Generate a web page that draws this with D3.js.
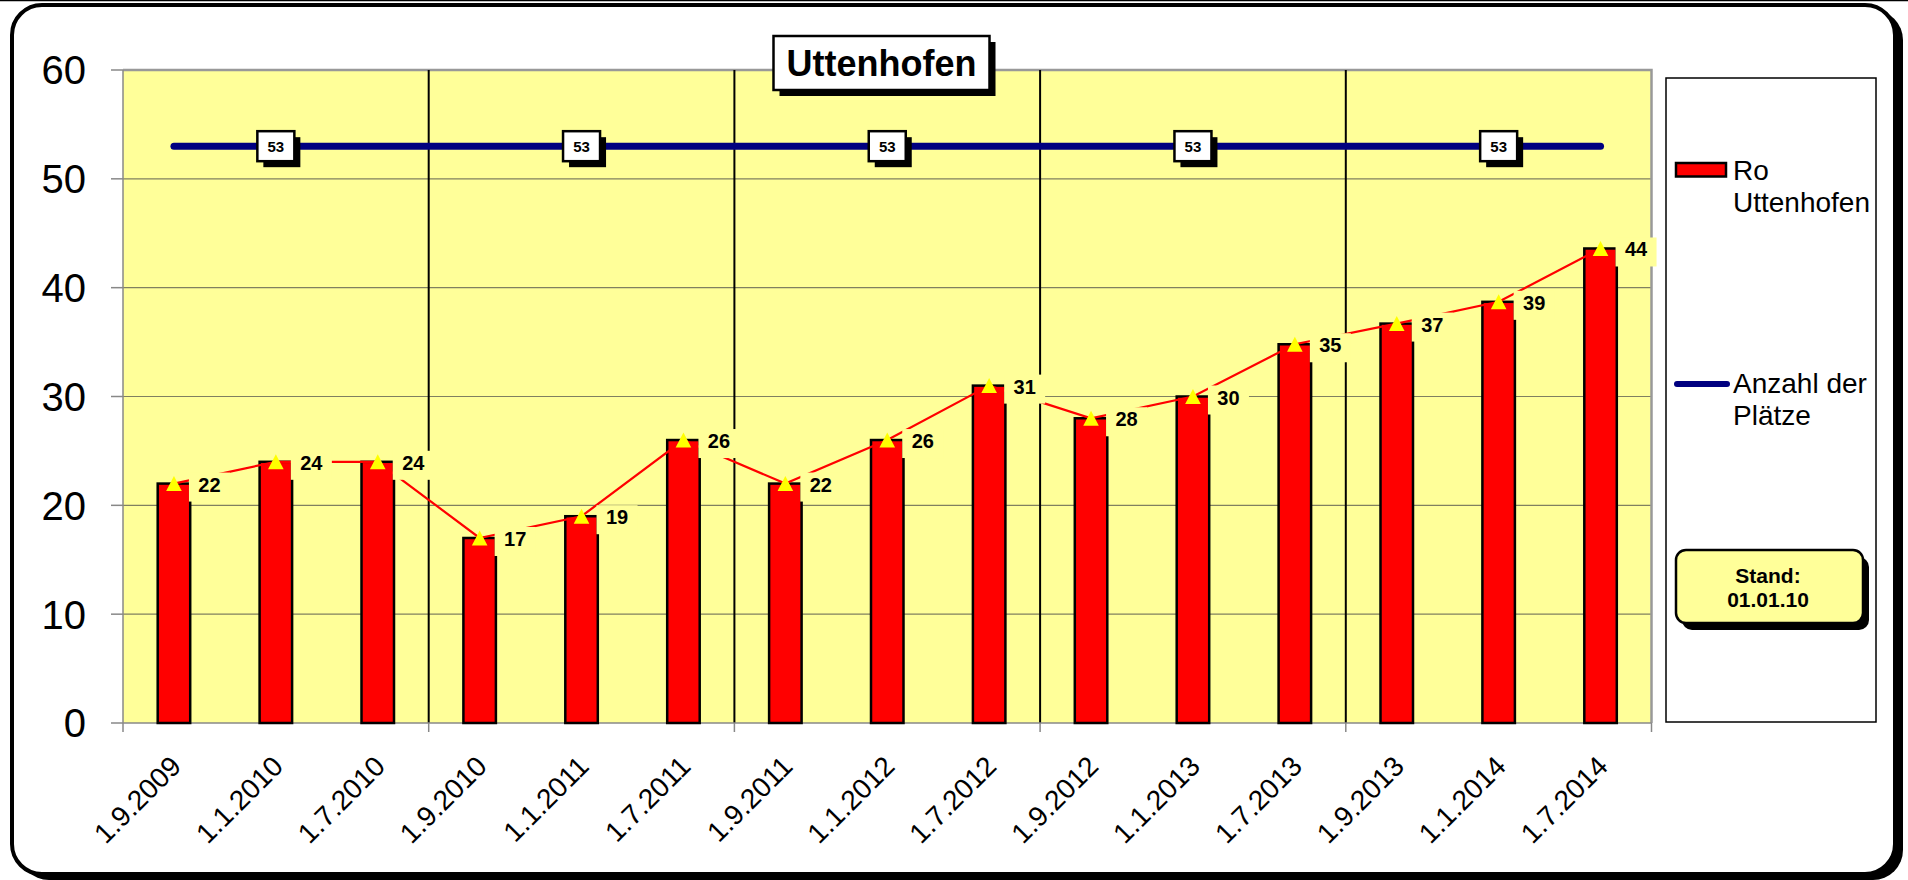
<!DOCTYPE html>
<html>
<head>
<meta charset="utf-8">
<script src="https://cdn.jsdelivr.net/npm/d3@7"></script>
<style>
  html, body { margin: 0; padding: 0; background: #fff; }
  svg { display: block; font-family: "Liberation Sans", Arial, sans-serif; }
</style>
</head>
<body>
<svg id="chart" width="1908" height="880"></svg>
<script>
// ---- data ----
const categories = ["1.9.2009","1.1.2010","1.7.2010","1.9.2010","1.1.2011","1.7.2011","1.9.2011","1.1.2012","1.7.2012","1.9.2012","1.1.2013","1.7.2013","1.9.2013","1.1.2014","1.7.2014"];
const roValues = [22, 24, 24, 17, 19, 26, 22, 26, 31, 28, 30, 34.8, 36.7, 38.7, 43.6];
const plaetzeValues = [53, 53, 53, 53, 53, 53, 53, 53, 53, 53, 53, 53, 53, 53, 53];
const plaetzeLabelIdx = [1, 4, 7, 10, 13];
const yTicks = [0, 10, 20, 30, 40, 50, 60];
const titleText = "Uttenhofen";
const legendRo = ["Ro", "Uttenhofen"];
const legendPl = ["Anzahl der", "Plätze"];
const standText = ["Stand:", "01.01.10"];

// ---- layout ----
const svg = d3.select("#chart");
const plot = { left: 123, right: 1651.5, top: 70, bottom: 723 };
const x = d3.scaleBand().domain(categories).range([plot.left, plot.right]).paddingInner(0).paddingOuter(0);
const y = d3.scaleLinear().domain([0, 60]).range([plot.bottom, plot.top]);
const cx = d => x(d) + x.bandwidth() / 2;
const fmt = d3.format(".0f");

// top spreadsheet line
svg.append("line").attr("x1", 0).attr("x2", 1908).attr("y1", 0.5).attr("y2", 0.5).attr("stroke", "#000").attr("stroke-width", 1.5);

// outer frame with shadow
svg.append("rect").attr("x", 19).attr("y", 10).attr("width", 1884).attr("height", 870).attr("rx", 30).attr("fill", "#000");
svg.append("rect").attr("x", 12).attr("y", 5).attr("width", 1883).attr("height", 869).attr("rx", 30)
  .attr("fill", "#fff").attr("stroke", "#000").attr("stroke-width", 4);

// plot background
svg.append("rect").attr("x", plot.left).attr("y", plot.top).attr("width", plot.right - plot.left).attr("height", plot.bottom - plot.top).attr("fill", "#FFFF99");

// horizontal gridlines
svg.append("g").selectAll("line").data(yTicks.filter(t => t > 0 && t < 60)).join("line")
  .attr("x1", plot.left).attr("x2", plot.right).attr("y1", d => y(d)).attr("y2", d => y(d))
  .attr("stroke", "#808060").attr("stroke-width", 1.2);

// plot border (top & right) gray
svg.append("path").attr("d", `M${plot.left},${plot.top}H${plot.right}V${plot.bottom}`)
  .attr("fill", "none").attr("stroke", "#999").attr("stroke-width", 2.5);

// vertical category separators every 3 categories
const sepIdx = [3, 6, 9, 12];
svg.append("g").selectAll("line").data(sepIdx).join("line")
  .attr("x1", d => x(categories[d])).attr("x2", d => x(categories[d]))
  .attr("y1", plot.top).attr("y2", plot.bottom)
  .attr("stroke", "#000").attr("stroke-width", 2);

// y axis
const yAxis = svg.append("g");
yAxis.append("line").attr("x1", plot.left).attr("x2", plot.left).attr("y1", plot.top).attr("y2", plot.bottom).attr("stroke", "#888").attr("stroke-width", 1.5);
yAxis.selectAll("line.tick").data(yTicks).join("line").attr("class", "tick")
  .attr("x1", 111).attr("x2", plot.left).attr("y1", d => y(d)).attr("y2", d => y(d)).attr("stroke", "#888").attr("stroke-width", 1.5);
yAxis.selectAll("text").data(yTicks).join("text")
  .attr("x", 86).attr("y", d => y(d)).attr("dy", "0.36em").attr("text-anchor", "end")
  .attr("font-size", 40).attr("fill", "#000").text(d => d);

// x axis
const xAxis = svg.append("g");
xAxis.append("line").attr("x1", plot.left).attr("x2", plot.right).attr("y1", plot.bottom).attr("y2", plot.bottom).attr("stroke", "#888").attr("stroke-width", 1.5);
const xTickIdx = [0, 3, 6, 9, 12, 15];
xAxis.selectAll("line.tick").data(xTickIdx).join("line").attr("class", "tick")
  .attr("x1", d => d < 15 ? x(categories[d]) : plot.right).attr("x2", d => d < 15 ? x(categories[d]) : plot.right)
  .attr("y1", plot.bottom).attr("y2", plot.bottom + 9).attr("stroke", "#888").attr("stroke-width", 1.5);
xAxis.selectAll("text").data(categories).join("text")
  .attr("transform", d => `translate(${cx(d) + 2},${plot.bottom + 38}) rotate(-45)`)
  .attr("text-anchor", "end").attr("dy", "0.35em").attr("font-size", 28).attr("fill", "#000")
  .text(d => d);

// bars
const barW = 32.5;
svg.append("g").selectAll("rect").data(roValues).join("rect")
  .attr("x", (d, i) => cx(categories[i]) - barW / 2).attr("width", barW)
  .attr("y", d => y(d)).attr("height", d => y(0) - y(d))
  .attr("fill", "#FF0000").attr("stroke", "#000").attr("stroke-width", 2.5);

// Plätze line
const plLine = d3.line().x((d, i) => cx(categories[i])).y(d => y(d));
svg.append("path").attr("d", plLine(plaetzeValues)).attr("fill", "none")
  .attr("stroke", "#000080").attr("stroke-width", 7).attr("stroke-linecap", "round");

// red connecting line
svg.append("path").attr("d", plLine(roValues)).attr("fill", "none")
  .attr("stroke", "#FF0000").attr("stroke-width", 2.2);

// value labels with plot-coloured background
const vl = svg.append("g");
vl.selectAll("rect").data(roValues).join("rect")
  .attr("x", (d, i) => cx(categories[i]) + 15).attr("y", d => y(d) - 11)
  .attr("width", 41).attr("height", 29).attr("fill", "#FFFF99");
vl.selectAll("text").data(roValues).join("text")
  .attr("x", (d, i) => cx(categories[i]) + 35.5).attr("y", d => y(d) + 8)
  .attr("text-anchor", "middle").attr("font-size", 20).attr("font-weight", "bold").attr("fill", "#000")
  .text(d => fmt(d));

// triangle markers
svg.append("g").selectAll("path").data(roValues).join("path")
  .attr("transform", (d, i) => `translate(${cx(categories[i])},${y(d)})`)
  .attr("d", "M0,-7.5L7.8,7.5L-7.8,7.5Z").attr("fill", "#FFFF00");

// 53 labels
const pl = svg.append("g").selectAll("g").data(plaetzeLabelIdx).join("g")
  .attr("transform", i => `translate(${cx(categories[i])},${y(plaetzeValues[i])})`);
pl.append("rect").attr("x", -18.5 + 6).attr("y", -15 + 6).attr("width", 37).attr("height", 30).attr("fill", "#000");
pl.append("rect").attr("x", -18.5).attr("y", -15).attr("width", 37).attr("height", 30)
  .attr("fill", "#fff").attr("stroke", "#000").attr("stroke-width", 2.5);
pl.append("text").attr("text-anchor", "middle").attr("y", 5.5).attr("font-size", 15).attr("font-weight", "bold")
  .text(i => fmt(plaetzeValues[i]));

// title
const tg = svg.append("g");
tg.append("rect").attr("x", 779.5).attr("y", 42).attr("width", 216).attr("height", 54).attr("fill", "#000");
tg.append("rect").attr("x", 773.5).attr("y", 36).attr("width", 216).attr("height", 54)
  .attr("fill", "#fff").attr("stroke", "#000").attr("stroke-width", 2.5);
tg.append("text").attr("x", 881.5).attr("y", 75.5).attr("text-anchor", "middle")
  .attr("font-size", 36).attr("font-weight", "bold").text(titleText);

// legend
const lg = svg.append("g");
lg.append("rect").attr("x", 1666).attr("y", 78).attr("width", 210).attr("height", 644)
  .attr("fill", "#fff").attr("stroke", "#000").attr("stroke-width", 1.5);
lg.append("rect").attr("x", 1676).attr("y", 163).attr("width", 50).attr("height", 13.5)
  .attr("fill", "#FF0000").attr("stroke", "#000").attr("stroke-width", 2.5);
lg.append("text").attr("font-size", 28).selectAll("tspan").data(legendRo).join("tspan")
  .attr("x", 1733).attr("y", (d, i) => 180 + i * 32).text(d => d);
lg.append("line").attr("x1", 1677).attr("x2", 1727).attr("y1", 384).attr("y2", 384)
  .attr("stroke", "#000080").attr("stroke-width", 6).attr("stroke-linecap", "round");
lg.append("text").attr("font-size", 28).selectAll("tspan").data(legendPl).join("tspan")
  .attr("x", 1733).attr("y", (d, i) => 393 + i * 32).text(d => d);

// Stand box
const sg = svg.append("g");
sg.append("rect").attr("x", 1682).attr("y", 557).attr("width", 187).attr("height", 73).attr("rx", 10).attr("fill", "#000");
sg.append("rect").attr("x", 1676).attr("y", 550).attr("width", 187).attr("height", 73).attr("rx", 10)
  .attr("fill", "#FFFF99").attr("stroke", "#000").attr("stroke-width", 2.5);
sg.append("text").attr("text-anchor", "middle").attr("font-size", 21).attr("font-weight", "bold")
  .selectAll("tspan").data(standText).join("tspan")
  .attr("x", 1768).attr("y", (d, i) => 583 + i * 24).text(d => d);
</script>
</body>
</html>
